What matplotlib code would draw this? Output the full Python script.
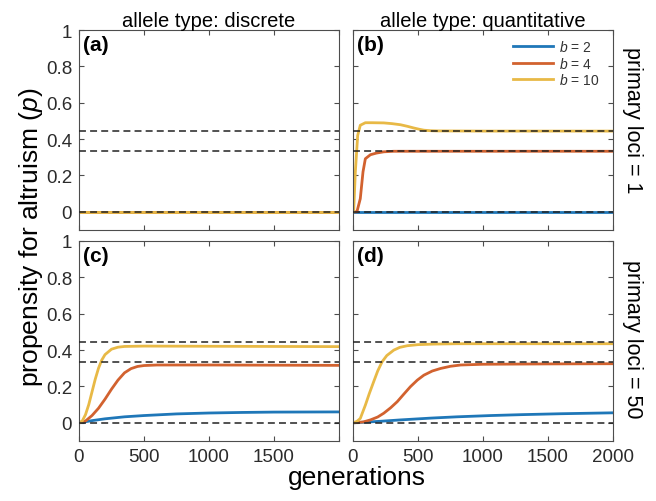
import matplotlib
matplotlib.use('Agg')
from matplotlib import pyplot as plt

plt.rcParams['font.family'] = ['Liberation Sans', 'DejaVu Sans']
plt.rcParams['mathtext.fontset'] = 'custom'
plt.rcParams['mathtext.rm'] = 'Liberation Sans'
plt.rcParams['mathtext.it'] = 'Liberation Sans:italic'
plt.rcParams['lines.scale_dashes'] = False

# --- data ---------------------------------------------------------------
labels = ['$\\it{b}$ = 2', '$\\it{b}$ = 4', '$\\it{b}$ = 10']
thresholds = [0.0, 1 / 3, 4 / 9]

# (a) discrete, 1 locus: nothing happens
a_gen = [0, 2000]
a_blue = [0, 0]
a_red = [0, 0]
a_yellow = [0, 0]

# (b) quantitative, 1 locus
b_blue_gen = [0, 2000]
b_blue = [0, 0]
b_red_gen = [0, 30, 56, 77, 95, 134, 180, 237, 314, 1000, 2000]
b_red = [0, 0, 0.072, 0.22, 0.292, 0.314, 0.323, 0.33, 0.333, 0.333, 0.333]
b_yel_gen = [0, 5, 18, 36, 56, 95, 150, 237, 300, 365, 420, 468, 510, 545, 600, 648, 1000, 2000]
b_yel = [0, 0, 0.22, 0.42, 0.476, 0.49, 0.49, 0.489, 0.485, 0.479, 0.47, 0.461,
         0.454, 0.449, 0.446, 0.445, 0.444, 0.444]

# (c) discrete, 50 loci
c_blue_gen = [0, 100, 200, 350, 500, 750, 1000, 1250, 1500, 2000]
c_blue = [0, 0.012, 0.022, 0.033, 0.04, 0.049, 0.054, 0.057, 0.059, 0.06]
c_red_gen = [0, 50, 100, 150, 200, 250, 300, 350, 400, 450, 500, 600, 1000, 1500, 2000]
c_red = [0, 0.01, 0.04, 0.08, 0.13, 0.185, 0.235, 0.275, 0.298, 0.31, 0.315,
         0.318, 0.318, 0.317, 0.316]
c_yel_gen = [0, 25, 50, 75, 100, 125, 150, 175, 200, 250, 300, 350, 500, 1000, 1500, 2000]
c_yel = [0, 0.01, 0.045, 0.1, 0.17, 0.24, 0.3, 0.345, 0.375, 0.405, 0.416, 0.42,
         0.422, 0.421, 0.42, 0.419]

# (d) quantitative, 50 loci
d_blue_gen = [0, 200, 365, 600, 800, 1060, 1300, 1600, 2000]
d_blue = [0, 0.008, 0.016, 0.026, 0.033, 0.04, 0.045, 0.05, 0.055]
d_red_gen = [0, 80, 134, 190, 237, 290, 340, 390, 442, 495, 545, 610, 674, 750,
             828, 1000, 1500, 2000]
d_red = [0, 0.005, 0.016, 0.032, 0.053, 0.083, 0.116, 0.157, 0.199, 0.235, 0.262,
         0.285, 0.299, 0.311, 0.318, 0.322, 0.324, 0.325]
d_yel_gen = [0, 30, 56, 95, 125, 159, 190, 224, 260, 314, 360, 417, 500, 623, 800,
             1000, 2000]
d_yel = [0, 0.008, 0.024, 0.097, 0.16, 0.226, 0.285, 0.336, 0.37, 0.40, 0.415,
         0.424, 0.43, 0.433, 0.435, 0.435, 0.435]

panels = {
    'a': [(a_gen, a_blue), (a_gen, a_red), (a_gen, a_yellow)],
    'b': [(b_blue_gen, b_blue), (b_red_gen, b_red), (b_yel_gen, b_yel)],
    'c': [(c_blue_gen, c_blue), (c_red_gen, c_red), (c_yel_gen, c_yel)],
    'd': [(d_blue_gen, d_blue), (d_red_gen, d_red), (d_yel_gen, d_yel)],
}

colors = ['#1f77b8', '#d2622f', '#e8b946']
spine_col = '#4d4d4d'
W, H = 656, 502

fig = plt.figure(figsize=(W / 100, H / 100), dpi=100)

boxes = {
    'a': (79, 31), 'b': (353, 31),
    'c': (79, 242), 'd': (353, 242),
}
axes = {}
for key, (left, top) in boxes.items():
    ax = fig.add_axes([left / W, 1 - (top + 200) / H, 260 / W, 200 / H])
    axes[key] = ax
    for (x, y), col, lab in zip(panels[key], colors, labels):
        ax.plot(x, y, color=col, lw=2.0, label=lab, zorder=2)
    for t in thresholds:
        ax.axhline(t, color='#222222', lw=1.1, dashes=(5, 3), zorder=3)
    ax.set_xlim(0, 2000)
    ax.set_ylim(-0.1, 1)
    ax.set_xticks([0, 500, 1000, 1500, 2000])
    ax.set_yticks([0, 0.2, 0.4, 0.6, 0.8, 1.0])
    ax.set_yticklabels(['0', '0.2', '0.4', '0.6', '0.8', '1'])
    ax.tick_params(direction='in', top=True, right=True, length=3.5, width=0.8,
                   color=spine_col, labelsize=13.5, labelcolor='#2b2b2b', pad=5)
    for s in ax.spines.values():
        s.set_color(spine_col)
        s.set_linewidth(0.8)
    ax.text(0.015, 0.975, '(%s)' % key, transform=ax.transAxes, ha='left',
            va='top', fontsize=15, fontweight='bold')

for key in ['a', 'b']:
    axes[key].tick_params(labelbottom=False)
for key in ['b', 'd']:
    axes[key].tick_params(labelleft=False)
axes['c'].set_xticklabels(['0', '500', '1000', '1500', ''])

axes['a'].set_title('allele type: discrete', fontsize=14.5, pad=1.5)
axes['b'].set_title('allele type: quantitative', fontsize=14.5, pad=1.5)

axes['b'].legend(loc='upper left', bbox_to_anchor=(0.614, 0.955), frameon=False,
                 fontsize=10, handlelength=2.9, handletextpad=0.45,
                 labelspacing=0.12, borderpad=0, borderaxespad=0,
                 labelcolor='#333333')

fig.text(632 / W, 1 - 47 / H, 'primary loci = 1', rotation=270, ha='center',
         va='top', fontsize=15.5)
fig.text(632 / W, 1 - 260 / H, 'primary loci = 50', rotation=270, ha='center',
         va='top', fontsize=15.5)
fig.text(31 / W, 1 - 237 / H, 'propensity for altruism ($\\it{p}$)', rotation=90,
         ha='center', va='center', fontsize=19)
fig.text(357 / W, 1 - 485 / H, 'generations', ha='center', va='baseline', fontsize=19)

fig.savefig('out.png', dpi=100)
